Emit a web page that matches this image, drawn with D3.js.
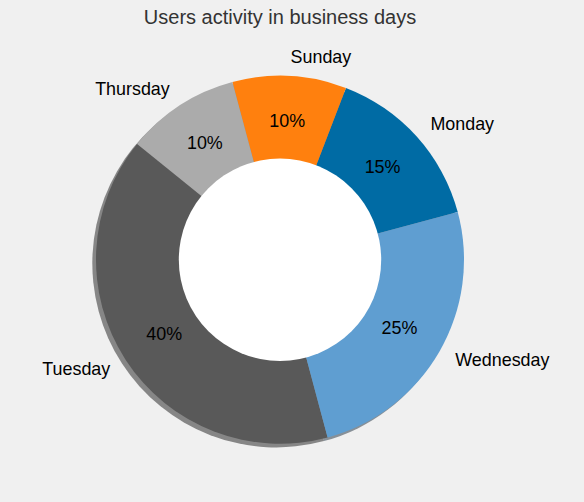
<!DOCTYPE html>
<html>
<head>
<meta charset="utf-8">
<script src="https://cdn.jsdelivr.net/npm/d3@7"></script>
<style>
  html, body { margin: 0; padding: 0; background: #f0f0f0; }
  svg { display: block; font-family: "Liberation Sans", Arial, sans-serif; }
</style>
</head>
<body>
<svg id="chart" width="584" height="502"></svg>
<script>
const categories = ["Monday", "Sunday", "Thursday", "Tuesday", "Wednesday"];
const values = [15, 10, 10, 40, 25];
const colors = ["#006BA4", "#FF800E", "#ABABAB", "#595959", "#5F9ED1"];
const title = "Users activity in business days";

const W = 584, H = 502;
const cx = 280, cy = 259.7, R = 184;
const holeRatio = 0.55;
const startDeg = 15; // matplotlib startangle (ccw from +x)

const svg = d3.select("#chart");
svg.append("rect").attr("width", W).attr("height", H).attr("fill", "#f0f0f0");

const toRad = d => d * Math.PI / 180;
const d3Start = toRad(90 - startDeg);
const pie = d3.pie().sort(null).value(d => d.v)
  .startAngle(d3Start).endAngle(d3Start - 2 * Math.PI);
const data = categories.map((c, i) => ({ c, v: values[i], col: colors[i] }));
const arcs = pie(data);
const total = d3.sum(values);

const arc = d3.arc().innerRadius(0).outerRadius(R);
const norm = d => ({ startAngle: Math.min(d.startAngle, d.endAngle), endAngle: Math.max(d.startAngle, d.endAngle) });

const g = svg.append("g").attr("transform", `translate(${cx},${cy})`);

// shadows (offset -0.02, -0.02 in data units => left & down)
const off = 0.02 * R;
g.append("g").attr("transform", `translate(${-off},${off})`)
  .selectAll("path").data(arcs).join("path")
  .attr("d", d => arc(norm(d)))
  .attr("fill", d => { const c = d3.rgb(d.data.col); return d3.rgb(c.r * 0.3, c.g * 0.3, c.b * 0.3); })
  .attr("fill-opacity", 0.5);

g.append("g").selectAll("path").data(arcs).join("path")
  .attr("d", d => arc(norm(d)))
  .attr("fill", d => d.data.col);

// labels
const fs = 17.9;
arcs.forEach(d => {
  const mid = (d.startAngle + d.endAngle) / 2;
  const sx = Math.sin(mid), sy = -Math.cos(mid);
  const lx = 1.1 * R * sx, ly = 1.1 * R * sy;
  g.append("text")
    .attr("x", lx).attr("y", ly).attr("dy", "0.3em")
    .attr("text-anchor", lx > 0 ? "start" : "end")
    .attr("font-size", fs).attr("fill", "#000")
    .text(d.data.c);
  const px = 0.75 * R * sx, py = 0.75 * R * sy;
  g.append("text")
    .attr("x", px).attr("y", py).attr("dy", "0.3em")
    .attr("text-anchor", "middle")
    .attr("font-size", fs).attr("fill", "#000")
    .text(Math.round(d.data.v / total * 100) + "%");
});

// white centre circle
g.append("circle").attr("r", R * holeRatio).attr("fill", "#ffffff");

svg.append("text")
  .attr("x", cx).attr("y", 24)
  .attr("text-anchor", "middle")
  .attr("font-size", 20).attr("fill", "#333333")
  .text(title);
</script>
</body>
</html>
